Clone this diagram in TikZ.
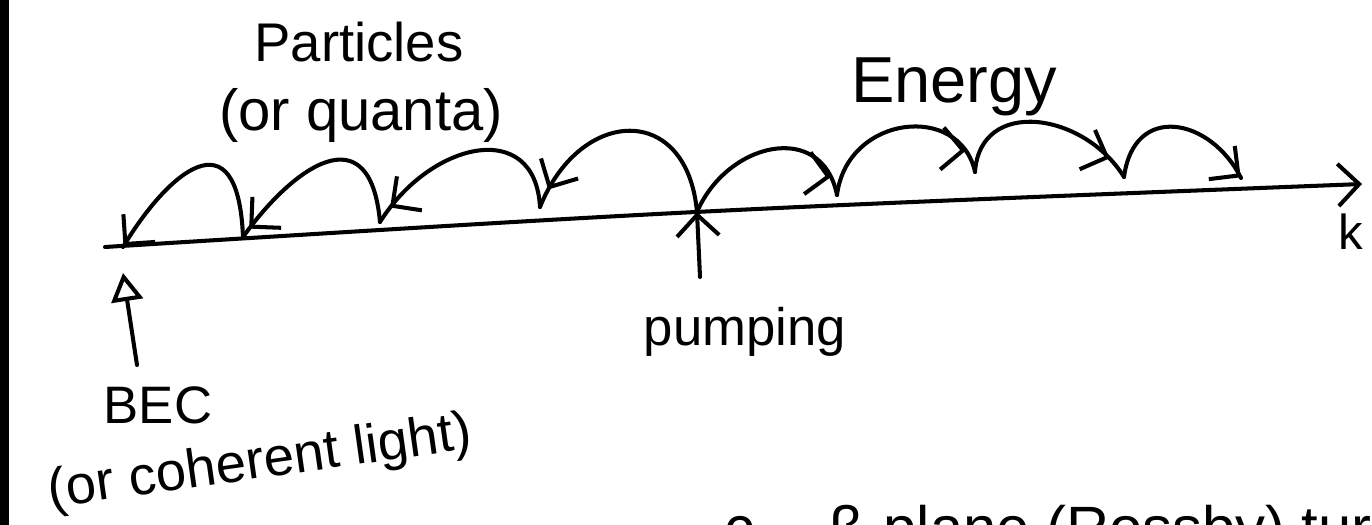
\documentclass[tikz,border=0pt]{standalone}
\usepackage{fontspec}
\setmainfont{Liberation Sans}
\usepackage{tikz}
\usetikzlibrary{arrows.meta, decorations.markings}
\newcommand{\handsize}[1]{\fontsize{#1}{#1}\selectfont}

\begin{document}
\begin{tikzpicture}[
    x=0.2mm, y=-0.2mm,
    hb/.tip    = {Straight Barb[length=12pt, width=24pt]},
    ink/.style = {line width=2.3pt, line cap=round, line join=round},
    hop/.style 2 args = {ink, postaction=decorate,
        decoration={markings, mark=at position #1 with
                    {\pgftransformrotate{#2}\arrow{hb}}}},
    lbl/.style = {inner sep=0pt, anchor=base}
  ]
  \useasboundingbox (0,0) rectangle (1372,525);
  \clip (0,0) rectangle (1372,525);
  \fill (0,0) rectangle (9,525);

  %% points on the axis
  \coordinate (axL) at (105,247);
  \coordinate (axR) at (1362,184);
  \coordinate (pump) at (697,212);
  \coordinate (pumptail) at (700,277);
  \coordinate (l1) at (540,207);
  \coordinate (l2) at (380,222);
  \coordinate (l3) at (243,237);
  \coordinate (l4) at (123,247);
  \coordinate (r1) at (837,195);
  \coordinate (r2) at (975,172);
  \coordinate (r3) at (1124,177);
  \coordinate (r4) at (1241,178);
  \coordinate (becTip) at (123,273);
  \coordinate (becTail) at (137,365);

  %% labels
  \node[lbl, font=\handsize{31pt}] (particles) at (359,62) {Particles};
  \node[lbl, font=\handsize{33pt}] (quanta) at (361,131) {(or quanta)};
  \node[lbl, font=\handsize{37pt}] (energy) at (954,103) {Energy};
  \node[lbl, font=\handsize{30pt}] (pumping) at (745,345) {pumping};
  \node[lbl, font=\handsize{30pt}] (bec) at (158,423) {BEC};
  \node[lbl, font=\handsize{31pt}, rotate=8] (light) at (262,478)
        {(or coherent light)};
  \node[lbl, anchor=base west, font=\handsize{28pt}] (k) at (1338,250) {k};
  \node[lbl, anchor=base west, font=\handsize{34pt}] (cf) at (724,548) {c.};
  \node[lbl, anchor=base west, font=\handsize{34pt}] (rossby) at (829,548)
        {β-plane (Rossby) turbulence};

  %% axis and arrows
  \draw[ink, -{hb}] (axL) .. controls (700,210) .. (axR);
  \draw[ink, -{hb}] (pumptail) -- (pump);
  \draw[ink, -{Triangle[open, length=16pt, width=18pt]}] (becTail) -- (becTip);

  %% particles hop to the left
  \draw[hop={0.92}{0}]    (pump) .. controls +(-10,-110) and +(40,-100) .. (l1);
  \draw[hop={0.92}{-16}]  (l1) .. controls +(-5,-90) and +(50,-80) .. (l2);
  \draw[hop={0.95}{-10}]  (l2) .. controls +(-10,-110) and +(50,-70) .. (l3);
  \draw[hop={0.995}{-10}] (l3) .. controls +(-5,-125) and +(45,-75) .. (l4);

  %% energy hops to the right
  \draw[hop={0.9}{55}]    (pump) .. controls +(30,-70) and +(-15,-75) .. (r1);
  \draw[hop={0.88}{50}]   (r1) .. controls +(10,-80) and +(-15,-70) .. (r2);
  \draw[hop={0.88}{25}]   (r2) .. controls +(5,-75) and +(-40,-65) .. (r3);
  \draw[hop={0.995}{25}]  (r3) .. controls +(10,-75) and +(-30,-60) .. (r4);

\end{tikzpicture}
\end{document}
